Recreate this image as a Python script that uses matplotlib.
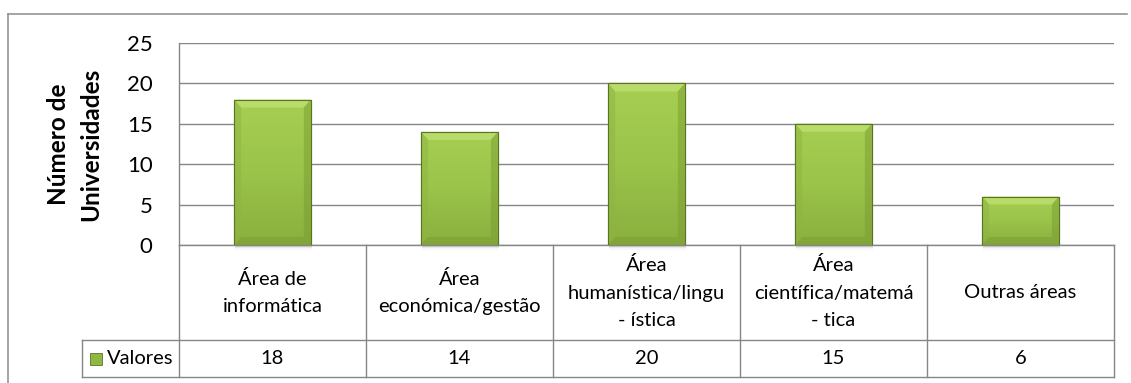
import numpy as np
import matplotlib
matplotlib.use("Agg")
import matplotlib.pyplot as plt
from matplotlib.patches import Polygon, Rectangle
from matplotlib.lines import Line2D
from matplotlib.colors import LinearSegmentedColormap

categories = ["Área de\ninformática", "Área\neconómica/gestão",
              "Área\nhumanística/lingu\n- ística", "Área\ncientífica/matemá\n- tica",
              "Outras áreas"]
values = [18, 14, 20, 15, 6]
value_labels = ["18", "14", "20", "15", "6"]
series_name = "Valores"
y_ticks = [0, 5, 10, 15, 20, 25]
y_label = "Número de\nUniversidades"

W, H = 1131, 383
DPI = 100
plt.rcParams['font.family'] = ['Lato', 'DejaVu Sans']

fig = plt.figure(figsize=(W / DPI, H / DPI), dpi=DPI)

def fx(px):
    return px / W

def fy(py):
    return 1 - py / H

# geometry in pixels
pl, pr, pt, pb = 179, 1114, 43, 245
tb_left, tb_bot, row_sep = 82, 377, 340
col_w = (pr - pl) / len(categories)
GRAY = "#868686"

ax = fig.add_axes([fx(pl), fy(pb), fx(pr - pl), (pb - pt) / H])
ax.set_xlim(-0.5, len(categories) - 0.5)
ax.set_ylim(0, 25)
ax.set_yticks(y_ticks)
ax.tick_params(axis='y', length=0, pad=19.0, labelsize=16, labelcolor="#000000")
ax.tick_params(axis='x', length=0, labelbottom=False)
for s in ['top', 'right']:
    ax.spines[s].set_visible(False)
ax.spines['left'].set_color(GRAY)
ax.spines['left'].set_linewidth(1.0)
ax.spines['bottom'].set_color(GRAY)
ax.spines['bottom'].set_linewidth(1.0)
ax.yaxis.grid(True, color=GRAY, linewidth=1.0)
ax.set_axisbelow(True)
ax.set_facecolor("none")

ax.set_ylabel(y_label, fontsize=17.5, fontweight='bold', linespacing=1.47, labelpad=18)

x = np.arange(len(categories))
bars = ax.bar(x, values, width=0.41, color="#95bd45", edgecolor="#5a7522", linewidth=0.8, zorder=3)

# data units per pixel
ux = 1.0 / col_w
uy = 25.0 / (pb - pt)
bev_x = 7 * ux
bev_y = 8 * uy

grad = np.linspace(0, 1, 256).reshape(-1, 1)
cmap = LinearSegmentedColormap.from_list("g", ["#a6cf52", "#9ac44a", "#8aaf3e"])
for b in bars:
    x0, w, h = b.get_x(), b.get_width(), b.get_height()
    # soft shadow
    for k, a in enumerate([0.10, 0.06, 0.03]):
        ax.add_patch(Rectangle((x0 + 1 * ux, -(k + 1) * 1.5 * uy), w, (k + 1) * 1.5 * uy,
                               facecolor="#000000", alpha=a, edgecolor='none', zorder=2, clip_on=False))
    im = ax.imshow(grad, extent=(x0, x0 + w, 0, h), origin='upper', aspect='auto', cmap=cmap,
                   zorder=3.1, interpolation='bilinear')
    im.set_clip_path(b)
    # bevels
    top = Polygon([(x0, h), (x0 + w, h), (x0 + w - bev_x, h - bev_y), (x0 + bev_x, h - bev_y)],
                  closed=True, facecolor="#bbdd6e", edgecolor='none', alpha=0.9, zorder=3.2)
    left = Polygon([(x0, h), (x0 + bev_x, h - bev_y), (x0 + bev_x, bev_y), (x0, 0)],
                   closed=True, facecolor="#8fb443", edgecolor='none', alpha=0.5, zorder=3.2)
    right = Polygon([(x0 + w, h), (x0 + w - bev_x, h - bev_y), (x0 + w - bev_x, bev_y), (x0 + w, 0)],
                    closed=True, facecolor="#7a9c33", edgecolor='none', alpha=0.5, zorder=3.2)
    bottom = Polygon([(x0, 0), (x0 + bev_x, bev_y), (x0 + w - bev_x, bev_y), (x0 + w, 0)],
                     closed=True, facecolor="#789a31", edgecolor='none', alpha=0.45, zorder=3.2)
    for p in (top, left, right, bottom):
        ax.add_patch(p)
    ax.add_patch(Rectangle((x0, 0), w, h, facecolor='none', edgecolor="#5a7522", linewidth=0.8, zorder=3.3))

# data table
tax = fig.add_axes([fx(tb_left), fy(tb_bot), fx(pr - tb_left), (tb_bot - pb) / H])
t_left = -0.5 - (pl - tb_left) * ux
tax.set_xlim(t_left, len(categories) - 0.5)
tax.set_ylim(tb_bot - pb, 0)
tax.axis('off')
sep = row_sep - pb
bot = tb_bot - pb
lw = 1.0
for i in range(len(categories) + 1):
    tax.add_line(Line2D([i - 0.5, i - 0.5], [0, bot], color=GRAY, lw=lw, clip_on=False))
tax.add_line(Line2D([t_left, t_left], [sep, bot], color=GRAY, lw=lw, clip_on=False))
tax.add_line(Line2D([t_left, len(categories) - 0.5], [sep, sep], color=GRAY, lw=lw, clip_on=False))
tax.add_line(Line2D([t_left, len(categories) - 0.5], [bot, bot], color=GRAY, lw=lw, clip_on=False))

TFS = 14.5
for i, (c, v) in enumerate(zip(categories, value_labels)):
    tax.text(i, sep / 2, c, ha='center', va='center', fontsize=TFS, linespacing=1.72, color="#000000")
    tax.text(i, (sep + bot) / 2, v, ha='center', va='center', fontsize=TFS, color="#000000")

# legend key + series name
key_px = 12
kx0 = t_left + 8 * ux
ky = (sep + bot) / 2
tax.add_patch(Rectangle((kx0, ky - key_px / 2), key_px * ux, key_px, facecolor="#8fb843",
                        edgecolor="#5a7522", linewidth=0.6, clip_on=False))
tax.text(kx0 + (key_px + 5) * ux, ky, series_name, ha='left', va='center', fontsize=TFS, color="#000000")

# outer chart border (top and left)
fig.add_artist(Line2D([fx(8), fx(1127)], [fy(14), fy(14)], color="#8c8c8c", lw=1.1))
fig.add_artist(Line2D([fx(8), fx(8)], [fy(14), 0], color="#8c8c8c", lw=1.1))

fig.savefig("out.png", dpi=DPI, facecolor="white")
